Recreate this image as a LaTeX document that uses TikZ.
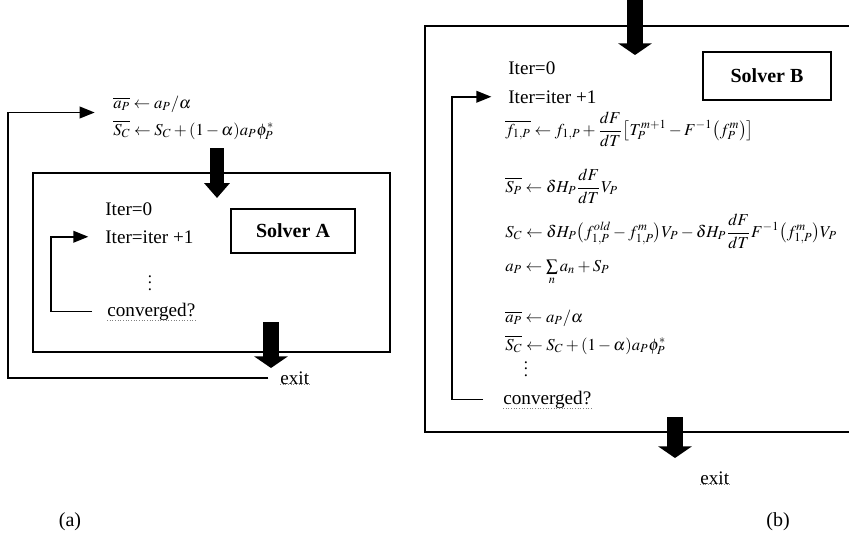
\documentclass[tikz,border=0pt]{standalone}
\usepackage{mathptmx}
\usepackage{fontspec}
\setmainfont{Liberation Serif}
\usetikzlibrary{arrows.meta,positioning}

\tikzset{
  txt/.style={inner sep=0pt, anchor=base west, font=\fontsize{11.5pt}{13pt}\selectfont},
  eq/.style={inner sep=0pt, anchor=base west, font=\fontsize{10pt}{12pt}\selectfont},
  frame/.style={line width=1.3pt},
  solverbox/.style={draw, line width=1.1pt, font=\fontsize{12pt}{14pt}\selectfont\bfseries},
  loop/.style={line width=1pt, -{Triangle[width=7pt,length=9pt]}},
  bigdown/.style={line width=10pt, -{Triangle[width=20pt,length=7pt]}},
  smalldown/.style={line width=8pt, -{Triangle[width=15pt,length=9pt]}},
  spell/.style={densely dotted, line width=0.6pt, gray},
}

\begin{document}
\begin{tikzpicture}[x=0.6pt,y=-0.6pt]
    \useasboundingbox (0,0) rectangle (849,547);

    % ---- (a) Solver A ----
    \node[eq] (apA) at (113,108) {$\overline{a_P}\leftarrow a_P/\alpha$};
    \node[eq] (scA) at (113,135) {$\overline{S_C}\leftarrow S_C+(1-\alpha)a_P\phi_P^{*}$};
    \draw[frame] (33,173) rectangle (390,352);
    \node[txt] (it0A) at (105,215) {Iter=0};
    \node[txt] (it1A) at (105,243) {Iter=iter +1};
    \node[inner sep=0pt] (dotsA) at (150,278) {$\vdots$};
    \node[txt] (convA) at (107,316) {converged?};
    \node[solverbox, minimum width=74pt, minimum height=26pt] (solA) at (293,231) {Solver A};
    \node[txt] (exitA) at (280,384) {exit};
    \draw[spell] (convA.south west) -- (convA.south east);
    \draw[spell] (exitA.south west) -- (exitA.south east);

    % block arrows
    \coordinate (inA0) at (217,148);
    \coordinate (inA1) at (217,198);
    \coordinate (outA0) at (271,322);
    \coordinate (outA1) at (271,368);
    \draw[smalldown] (inA0) -- (inA1);
    \draw[bigdown] (outA0) -- (outA1);

    % loops
    \coordinate (backA) at (51,280);
    \coordinate (retA) at (8,250);
    \draw[loop, shorten <=9pt, shorten >=10pt] (convA.west) -| (backA) |- (it1A.west);
    \draw[loop, shorten <=7pt, shorten >=11pt] (exitA.west) -| (retA) |- (apA.south west);

    % ---- (b) Solver B ----
    \draw[frame] (849,26) -- (425,26) -- (425,432) -- (849,432);
    \node[txt] (it0B) at (508,74) {Iter=0};
    \node[txt] (it1B) at (508,103) {Iter=iter +1};
    \node[solverbox, minimum width=77pt, minimum height=29pt] (solB) at (767,76) {Solver B};
    \node[eq] (flB) at (505,135)
      {$\overline{f_{1,P}}\leftarrow f_{1,P}+\displaystyle\frac{dF}{dT}\bigl[T_P^{m+1}-F^{-1}\bigl(f_P^{m}\bigr)\bigr]$};
    \node[eq] (spB) at (505,192)
      {$\overline{S_P}\leftarrow \delta H_P\displaystyle\frac{dF}{dT}V_P$};
    \node[eq] (scB) at (505,237)
      {$S_C\leftarrow \delta H_P\big(f_{1,P}^{\mathit{old}}-f_{1,P}^{m}\big)V_P-\delta H_P\displaystyle\frac{dF}{dT}F^{-1}\big(f_{1,P}^{m}\big)V_P$};
    \node[eq] (aB) at (505,271) {$a_P\leftarrow \sum\limits_{n}a_n+S_P$};
    \node[eq] (apB) at (505,322) {$\overline{a_P}\leftarrow a_P/\alpha$};
    \node[eq] (scB2) at (505,350) {$\overline{S_C}\leftarrow S_C+(1-\alpha)a_P\phi_P^{*}$};
    \node[inner sep=0pt] (dotsB) at (526,364) {$\vdots$};
    \node[txt] (convB) at (503,404) {converged?};
    \node[txt] (exitB) at (700,484) {exit};
    \draw[spell] (convB.south west) -- (convB.south east);
    \draw[spell] (exitB.south west) -- (exitB.south east);

    % block arrows
    \coordinate (inB0) at (635,0);
    \coordinate (inB1) at (635,55);
    \coordinate (outB0) at (675,417);
    \coordinate (outB1) at (675,458);
    \draw[bigdown] (inB0) -- (inB1);
    \draw[bigdown] (outB0) -- (outB1);

    % loop
    \coordinate (backB) at (452,250);
    \draw[loop, shorten <=12pt, shorten >=10pt] (convB.west) -| (backB) |- (it1B.west);

    % captions
    \node (capA) at (70,522) {\fontsize{12pt}{14pt}\selectfont (a)};
    \node (capB) at (778,522) {\fontsize{12pt}{14pt}\selectfont (b)};
\end{tikzpicture}
\end{document}
